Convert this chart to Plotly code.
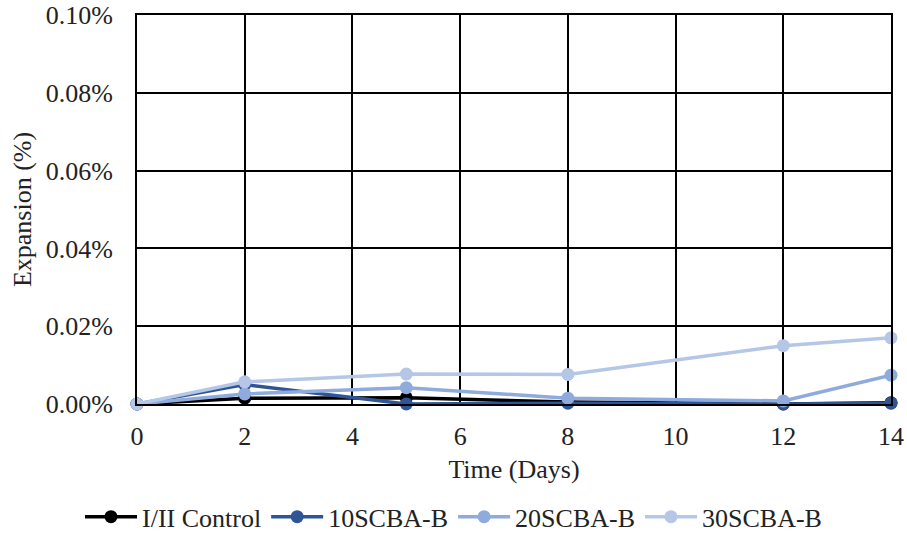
import plotly.graph_objects as go

days = [0, 2, 5, 8, 12, 14]
control = [0.0, 0.0015, 0.0016, 0.0005, 0.0, 0.0003]
scba10 = [0.0, 0.0050, 0.0, 0.0002, 0.0, 0.0002]
scba20 = [0.0, 0.0026, 0.0042, 0.0015, 0.0008, 0.0074]
scba30 = [0.0, 0.0057, 0.0077, 0.0076, 0.0150, 0.0170]

names = ["I/II Control", "10SCBA-B", "20SCBA-B", "30SCBA-B"]
colors = ["#000000", "#2F5597", "#8FAADC", "#B4C7E7"]
series = [control, scba10, scba20, scba30]

fig = go.Figure()
for i in range(4):
    fig.add_trace(go.Scatter(
        x=days, y=series[i], name=names[i], mode="lines+markers",
        line=dict(color=colors[i], width=3.5),
        marker=dict(color=colors[i], size=13),
        cliponaxis=False,
    ))

font = "Liberation Serif, Times New Roman, serif"
fs = 26
fig.update_layout(
    width=907, height=534,
    margin=dict(l=137, r=16, t=15, b=130, autoexpand=False),
    plot_bgcolor="white", paper_bgcolor="white",
    font=dict(family=font, size=fs, color="#222"),
    showlegend=True,
    legend=dict(orientation="h", xref="container", x=0.5, xanchor="center",
                y=-0.29, yanchor="middle",
                font=dict(family=font, size=fs, color="#222"), traceorder="normal",
                itemwidth=52),
    xaxis=dict(range=[0, 14], tickvals=[0, 2, 4, 6, 8, 10, 12, 14],
               showgrid=True, gridcolor="black", gridwidth=2,
               showline=True, linecolor="black", linewidth=2, mirror=True,
               zeroline=False, ticks="", automargin=False, ticklabelstandoff=8,
               tickfont=dict(size=fs),
               title=dict(text="Time (Days)", standoff=10, font=dict(size=fs))),
    yaxis=dict(range=[0, 0.1], tickvals=[0, 0.02, 0.04, 0.06, 0.08, 0.1],
               ticktext=["0.00%", "0.02%", "0.04%", "0.06%", "0.08%", "0.10%"],
               showgrid=True, gridcolor="black", gridwidth=2,
               showline=True, linecolor="black", linewidth=2, mirror=True,
               zeroline=False, ticks="", automargin=False, ticklabelstandoff=17,
               tickfont=dict(size=fs),
               title=dict(text="Expansion (%)", standoff=7, font=dict(size=fs))),
)
fig.write_html("out.html", config={"displayModeBar": False},
               post_script="document.body.style.margin='0';")
